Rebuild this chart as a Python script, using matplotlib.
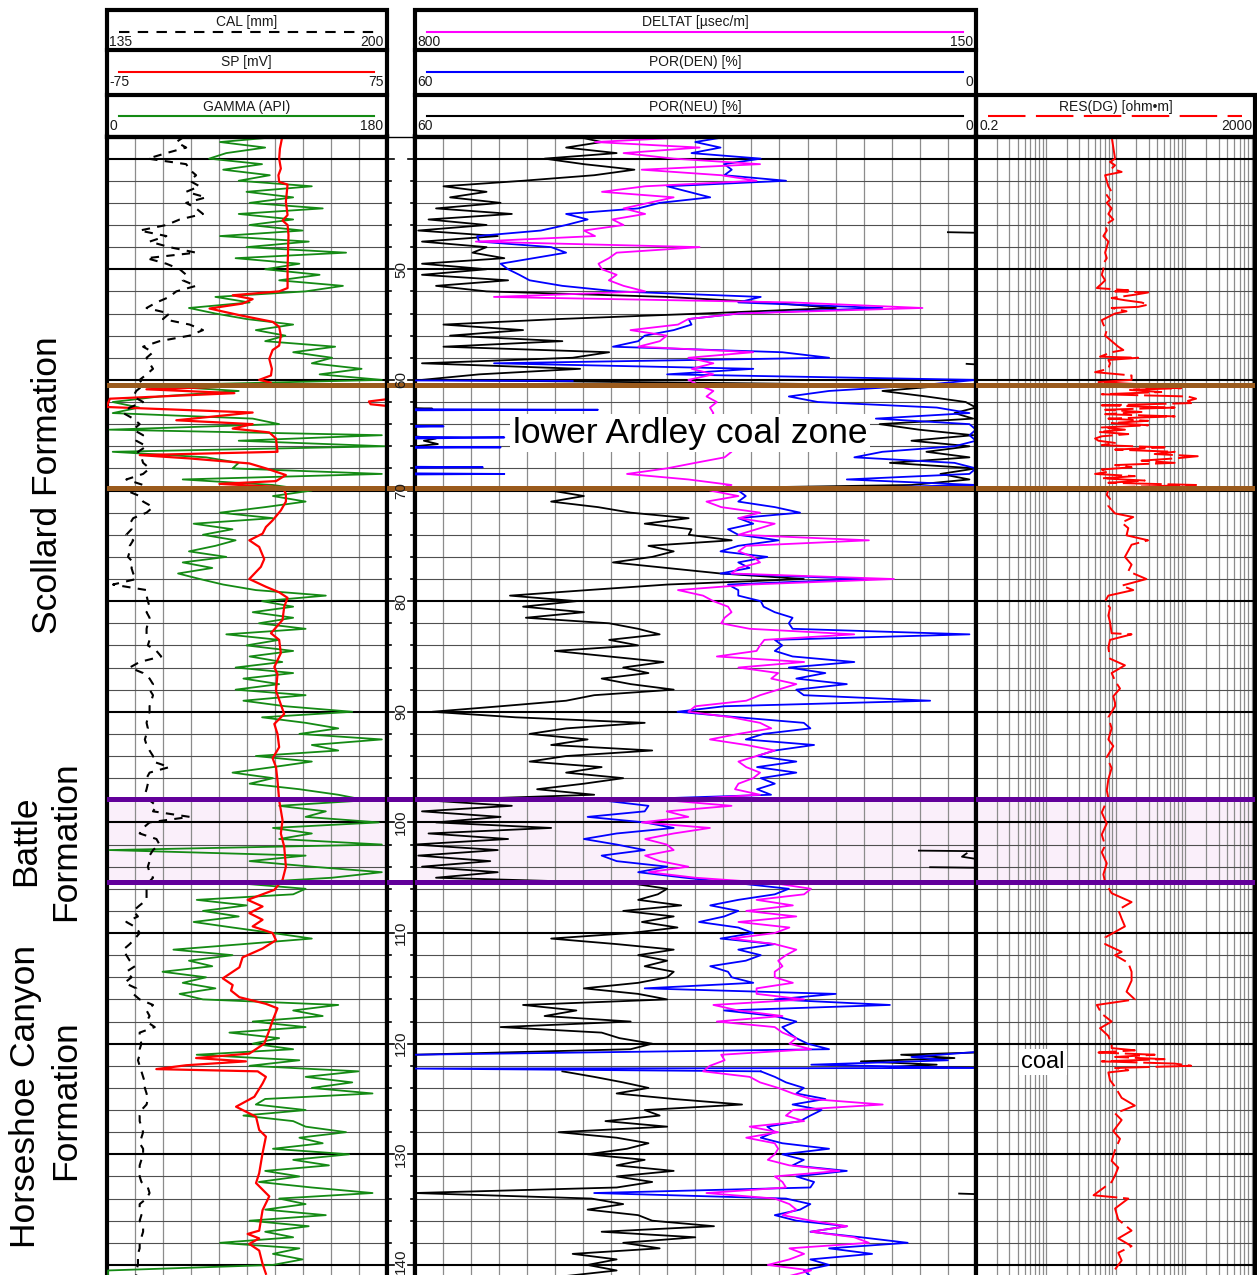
import numpy as np
import matplotlib
matplotlib.use("Agg")
import matplotlib.pyplot as plt
from matplotlib.patches import Rectangle
from matplotlib.ticker import NullLocator

plt.rcParams['font.family'] = ['Liberation Sans', 'DejaVu Sans']
nan = np.nan

# depth index (m) of the 0.5 m sampled curves
DEPTH = np.arange(38.0, 141.01, 0.5)

# GAMMA (API)
GR = [113, 73, 102, 77, 66, 100, 75, 105, 85, 132,
      90, 120, 92, 139, 85, 120, 92, 126, 73, 130,
      90, 154, 83, 124, 102, 137, 111, 152, 128, 70,
      92, 53, 70, 90, 120, 96, 115, 102, 147, 120,
      145, 132, 164, 137, 177, 28, 85, 34, 4, 21,
      4, 94, 111, 2, 177, 85, 179, 4, 64, 85,
      81, 177, 49, 107, 132, 107, 128, 102, 73, 107,
      56, 81, 62, 83, 70, 53, 77, 49, 68, 46,
      60, 75, 96, 141, 100, 120, 94, 120, 98, 128,
      77, 111, 90, 120, 92, 113, 83, 120, 88, 111,
      83, 128, 88, 115, 158, 100, 128, 149, 124, 177,
      132, 149, 96, 132, 107, 81, 107, 92, 124, 149,
      167, 111, 141, 128, 175, 107, 132, 111, 177, 2,
      128, 92, 132, 177, 145, 85, 128, 120, 58, 90,
      62, 85, 56, 81, 107, 132, 88, 43, 81, 53,
      68, 36, 64, 49, 70, 47, 62, 149, 120, 139,
      94, 128, 79, 111, 94, 120, 58, 124, 92, 162,
      128, 158, 132, 171, 102, 96, 128, 88, 120, 128,
      154, 124, 139, 107, 156, 120, 143, 102, 124, 98,
      132, 171, 111, 128, 102, 141, 92, 130, 102, 120,
      73, 124, 107, 126, 107, 1, 1]

# CAL (mm)
CAL = [153.1, 151.2, 153.5, 148.9, 144.6, 153.5, 154.3, 155.8, 154.3, 156.6,
       153.5, 158.1, 153.5, 155.8, 157.4, 152.0, 148.9, 142.7, 148.9, 145.0,
       149.6, 155.8, 144.3, 148.9, 152.0, 153.5, 152.7, 155.8, 151.2, 149.6,
       146.6, 144.3, 149.6, 148.1, 154.3, 157.4, 154.3, 147.3, 143.5, 145.8,
       144.3, 145.0, 145.8, 144.3, 142.7, 143.5, 141.9, 141.2, 143.5, 140.4,
       138.9, 141.2, 142.7, 141.2, 143.5, 141.9, 144.3, 142.3, 143.1, 143.5,
       145.0, 143.5, 139.6, 143.5, 139.6, 142.7, 143.5, 145.8, 144.3, 141.2,
       140.4, 140.8, 139.6, 141.2, 140.4, 140.4, 140.0, 141.2, 140.8, 141.2,
       141.9, 136.5, 144.3, 144.3, 144.6, 145.0, 144.3, 145.0, 144.6, 144.3,
       144.3, 145.0, 144.6, 146.6, 147.7, 142.7, 140.4, 143.5, 145.0, 145.8,
       145.0, 145.8, 145.4, 145.0, 145.0, 144.6, 144.3, 144.6, 144.3, 143.9,
       144.3, 145.0, 145.8, 145.8, 149.6, 145.0, 144.3, 144.6, 144.3, 143.9,
       145.0, 146.6, 145.8, 154.3, 145.0, 143.5, 142.7, 146.6, 147.3, 145.8,
       145.0, 145.0, 144.6, 145.0, 145.8, 144.6, 144.3, 144.3, 144.3, 142.7,
       141.2, 142.3, 139.6, 141.9, 142.7, 141.6, 140.4, 138.9, 139.6, 140.4,
       141.6, 139.6, 140.8, 139.2, 141.9, 141.2, 142.7, 145.8, 144.3, 145.0,
       144.3, 146.2, 142.7, 142.7, 143.1, 142.7, 142.7, 142.3, 142.7, 143.1,
       143.5, 143.9, 143.9, 144.3, 144.6, 144.3, 143.1, 142.7, 142.7, 143.1,
       143.5, 143.1, 142.7, 143.5, 143.5, 143.1, 142.7, 142.7, 142.7, 143.1,
       144.6, 145.0, 144.3, 142.7, 142.7, 143.1, 142.7, 143.5, 143.5, 143.1,
       142.7, 142.7, 142.3, 142.3, 142.3, 141.9, 141.9]

# POR(NEU) (%)
NEU = [42.7, 40.0, 43.8, 38.4, 46.1, 41.9, 36.5, 40.8, 48.4, 56.9,
       52.3, 56.2, 50.8, 57.7, 49.6, 58.5, 52.3, 59.6, 51.1, 59.2,
       52.3, 53.8, 50.4, 59.2, 52.3, 59.2, 50.0, 57.7, 52.3, 33.0,
       22.3, 15.0, 29.2, 44.6, 56.9, 48.4, 56.2, 44.2, 56.9, 39.2,
       43.1, 59.2, 42.3, 53.1, 59.2, 3.0, 10.0, 5.3, 1.1, 0.0,
       2.3, 0.3, 10.3, 6.1, 0.3, 6.9, 0.7, 5.3, 0.7, 9.2,
       0.0, 3.8, 0.7, 6.9, 45.4, 41.9, 45.4, 40.4, 36.9, 30.7,
       35.4, 30.4, 30.7, 26.1, 35.0, 32.3, 34.6, 38.8, 33.0, 27.3,
       18.4, 33.0, 41.5, 49.8, 42.7, 48.4, 41.9, 48.1, 39.2, 36.1,
       33.8, 39.2, 36.1, 45.0, 39.2, 33.4, 37.7, 35.0, 40.0, 36.9,
       32.3, 40.8, 43.8, 50.8, 58.1, 49.2, 35.4, 43.8, 47.7, 41.5,
       45.4, 34.6, 43.8, 47.7, 40.0, 43.8, 37.7, 41.9, 46.9, 40.8,
       58.8, 49.6, 59.2, 50.8, 57.7, 45.4, 58.5, 50.0, 60.0, 51.1,
       59.6, 51.9, 59.2, 51.1, 57.7, 36.9, 33.0, 34.0, 36.1, 31.5,
       37.7, 32.3, 35.7, 31.9, 36.9, 45.4, 38.4, 32.3, 36.1, 33.0,
       35.4, 32.3, 33.0, 36.1, 41.9, 36.1, 33.0, 48.4, 42.7, 46.1,
       36.9, 50.8, 40.0, 38.1, 34.6, 36.9, 60.0, nan, nan, 44.2,
       40.8, 37.7, 35.0, 38.4, 32.3, 25.0, 35.4, 33.8, 39.6, 33.0,
       44.6, 38.4, 35.0, 37.3, 41.5, 35.4, 38.4, 32.3, 38.4, 34.6,
       38.4, 60.0, 41.1, 37.7, 41.5, 36.1, 34.6, 28.0, 40.0, 30.0,
       37.7, 33.8, 43.1, 38.4, 41.5, 38.4, 43.8]

# POR(DEN) (%)
DEN = [26.5, 30.0, 27.3, 30.4, 23.0, 26.9, 26.1, 26.9, 20.3, 33.0,
       30.7, 28.4, 33.8, 36.1, 43.8, 41.5, 43.8, 46.5, 53.3, 53.1,
       45.4, 43.8, 47.3, 50.8, 50.0, 48.8, 47.7, 44.2, 38.4, 23.0,
       25.4, 10.0, 25.4, 30.7, 30.4, 32.3, 35.4, 36.1, 38.8, 20.7,
       15.7, 51.5, 23.8, 33.0, 0.0, 6.1, 15.7, 20.0, 16.9, 4.2,
       0.7, 10.7, 0.7, 0.0, 0.7, 0.0, 2.3, 10.0, 13.0, 2.3,
       0.0, 0.7, 13.8, 0.0, 25.4, 24.6, 25.4, 21.5, 18.8, 25.4,
       23.8, 26.5, 25.4, 21.1, 25.4, 27.3, 22.3, 25.4, 24.2, 27.3,
       11.9, 26.5, 25.4, 25.4, 23.0, 22.7, 21.5, 19.6, 20.0, 19.6,
       0.7, 21.5, 20.7, 21.5, 19.6, 13.0, 20.0, 16.1, 19.2, 13.8,
       19.2, 18.4, 4.9, 26.9, 31.9, 25.4, 18.4, 17.7, 22.7, 24.6,
       17.3, 21.5, 23.4, 19.2, 23.4, 19.2, 23.0, 21.5, 23.4, 21.9,
       40.0, 35.0, 35.4, 41.5, 35.4, 32.3, 38.4, 41.9, 38.4, 35.4,
       40.0, 38.4, 33.0, 36.1, 31.1, 25.4, 20.0, 21.5, 25.4, 28.4,
       25.4, 26.9, 29.6, 25.4, 23.8, 27.3, 21.5, 25.4, 23.0, 24.6,
       28.4, 26.5, 26.1, 23.8, 35.4, 15.0, 21.5, 9.2, 26.9, 21.5,
       19.2, 20.7, 20.0, 19.2, 18.0, 15.7, 60.0, nan, nan, 23.0,
       21.5, 20.3, 18.4, 19.2, 16.1, 19.6, 16.5, 17.7, 18.8, 22.3,
       21.5, 23.0, 20.7, 15.7, 20.7, 18.4, 19.6, 13.8, 19.2, 17.3,
       17.7, 40.8, 20.3, 17.7, 18.8, 21.5, 19.2, 13.8, 17.7, 12.3,
       7.3, 15.7, 11.1, 17.7, 15.7, 18.4, 17.7]

# DELTAT (usec/m)
DT = [466, 591, 470, 558, 500, 400, 537, 445, 404, 533,
      583, 500, 529, 558, 533, 571, 558, 604, 591, 729,
      470, 566, 575, 587, 583, 566, 575, 558, 533, 708,
      362, 212, 425, 483, 495, 550, 508, 516, 541, 408,
      483, 454, 479, 454, 483, 470, 454, 462, 450, 458,
      454, 458, 450, 454, 458, 450, 445, 433, 441, 475,
      508, 554, 483, 433, 458, 425, 462, 445, 400, 425,
      383, 404, 425, 274, 416, 425, 408, 400, 425, 433,
      245, 412, 495, 466, 454, 437, 433, 441, 445, 412,
      291, 395, 400, 404, 450, 349, 425, 379, 387, 358,
      379, 400, 416, 475, 483, 433, 400, 387, 425, 458,
      416, 383, 404, 425, 416, 400, 408, 425, 429, 400,
      508, 433, 508, 483, 537, 458, 500, 533, 508, 500,
      533, 516, 483, 529, 475, 383, 341, 349, 404, 362,
      416, 358, 425, 366, 383, 433, 383, 358, 370, 379,
      374, 383, 383, 362, 404, 404, 349, 454, 425, 374,
      450, 383, 374, 358, 366, 341, 445, 441, 458, 466,
      412, 400, 379, 362, 341, 258, 362, 370, 349, 412,
      379, 416, 383, 379, 383, 391, 366, 308, 383, 374,
      370, 462, 383, 366, 358, 374, 341, 299, 341, 291,
      274, 366, 349, 366, 391, 341, 366]

# SP (mV)
SP_DEPTH = [37.9, 39.1, 40.0, 40.9, 41.5, 42.1, 42.35, 43.9, 45.1, 45.6,
            46.0, 46.9, 49.9, 51.7, 52.0, 52.35, 52.7, 53.1, 53.55, 54.15,
            54.75, 55.2, 56.0, 56.9, 57.3, 58.1, 59.0, 59.6, 60.0, 60.25,
            60.5, 60.85, 61.2, 61.7, 62.45, 62.95, 63.65, 64.0, 64.4, 64.75,
            65.3, 66.5, 66.8, 67.1, 67.55, 68.0, 68.6, 69.15, 69.4, 69.7,
            70.3, 71.0, 71.8, 72.7, 73.3, 73.9, 74.5, 75.1, 76.2, 76.9,
            78.0, 78.7, 79.2, 79.7, 80.5, 81.7, 82.9, 83.5, 84.7, 85.95,
            86.6, 88.1, 88.9, 90.2, 91.1, 92.0, 93.2, 94.2, 95.0, 96.2,
            98.0, 99.8, 101.0, 102.2, 104.0, 105.2, 106.1, 107.0, 107.6, 108.2,
            108.8, 109.4, 110.0, 110.65, 111.4, 112.2, 113.1, 114.1, 114.7, 115.2,
            115.8, 116.4, 116.8, 117.9, 118.8, 120.0, 120.9, 121.3, 121.6, 121.95,
            122.3, 122.5, 123.0, 123.6, 124.8, 125.7, 126.6, 127.8, 128.4, 129.9,
            131.7, 132.6, 133.8, 135.05, 136.9, 137.2, 137.6, 138.1, 138.7, 139.9,
            140.8]
SP = [19.3, 17.9, 17.5, 18.4, 17.1, 17.5, 22.0, 21.1, 22.0, 19.3,
      22.0, 22.5, 22.0, 22.0, 17.5, -7.4, 3.3, -2.1, -19.8, -3.8,
      14.0, 17.5, 18.4, 17.5, 14.0, 12.2, 13.6, 13.1, 6.8, 13.1,
      10.4, -53.6, -6.5, -73.2, -75.0, 3.3, -37.6, 3.3, -7.4, 12.2,
      15.8, 16.6, -57.2, -30.5, 1.5, 10.4, 21.1, 15.8, -14.5, 19.3,
      21.1, 21.1, 18.4, 14.0, 10.4, 8.6, 1.5, 6.8, 9.5, 7.7,
      1.5, 10.4, 17.5, 22.0, 20.2, 19.3, 13.1, 17.5, 18.4, 14.9,
      16.6, 15.8, 17.5, 20.2, 14.9, 16.6, 17.5, 14.0, 15.8, 16.6,
      17.5, 19.3, 18.4, 20.2, 21.1, 19.3, 14.9, 0.6, 8.6, 1.5,
      8.6, 3.3, 14.0, 15.8, 8.6, -2.1, -3.8, -12.7, -7.4, -8.3,
      -3.8, 10.4, 16.6, 14.0, 12.2, 9.5, 1.5, -27.0, -0.3, -32.3,
      -48.3, 6.0, 10.4, 8.6, 4.2, -5.6, 5.1, 6.8, 10.4, 8.6,
      6.8, 5.1, 12.2, 8.6, 6.8, 0.6, 6.8, 1.5, 6.8, 8.6,
      10.4]
SP_WRAP_DEPTH = [61.75, 61.95, 62.2, 62.35]
SP_WRAP = [75.0, 65.6, 66.5, 75.0]

# porosity traces re-entering from the opposite edge of the track
NEU_WRAP_DEPTH = [46.65, 46.7, nan, 58.55, 58.6, nan, 62.55, 62.6, 62.65, nan,
                  65.1, 65.3, 65.5, 65.8, 66.0, nan, 102.55, 102.6, nan,
                  102.8, 103.1, 103.3, nan, 104.05, 104.1, nan,
                  120.8, 121.0, 121.3, 121.6, 121.9, 122.1, 122.15, nan,
                  133.55, 133.6]
NEU_WRAP = [3.0, 0.0, nan, 1.0, 0.0, nan, 60.0, 58.1, 60.0, nan,
            60.0, 57.7, 59.0, 57.5, 60.0, nan, 6.1, 0.0, nan,
            1.0, 1.5, 0.0, nan, 4.9, 0.0, nan,
            0.0, 8.0, 2.3, 12.3, 4.2, 9.2, 0.0, nan,
            1.8, 0.0]
DEN_WRAP_DEPTH = [60.05, 60.1, nan, 62.65, 62.7, 62.75, nan, 64.15, 64.2, 64.25, nan,
                  65.15, 65.2, 65.3, nan, 66.05, 66.1, 66.15, nan,
                  67.85, 67.9, 67.95, nan, 68.45, 68.5, 68.55, nan,
                  120.75, 121.2, 121.5, 121.9, 122.2, 122.25, 122.5]
DEN_WRAP = [60.0, 43.1, nan, 60.0, 40.4, 60.0, nan, 60.0, 56.9, 60.0, nan,
            60.0, 50.4, 60.0, nan, 60.0, 50.8, 60.0, nan,
            60.0, 52.7, 60.0, nan, 60.0, 50.4, 60.0, nan,
            0.0, 6.9, 3.0, 17.6, 0.0, 60.0, 23.0]

# RES(DG) (ohm.m)
RES_DEPTH = [38.0, 39.0, 40.0, 40.3, 40.6, 40.9, 41.2, 41.5, 42.0, 42.5,
             43.0, 43.3, 43.7, 44.0, 44.5, 45.0, 45.5, 46.0, 46.5, 47.0,
             47.5, 48.0, 48.5, 49.0, 49.5, 50.0, 50.5, 51.0, 51.3, 51.7,
             51.9, 52.0, 52.1, 52.3, 52.6, 52.8, 53.0, 53.2, 53.4, 53.5,
             53.8, 54.0, 54.3, 54.6, 55.0, 55.5, 56.0, 56.5, 57.0, 57.3,
             57.5, 57.9, 58.0, 58.2, 58.5, 59.0, 59.3, 59.6, 60.0, 60.2,
             60.4, 60.6, 60.75, 60.9, 61.1, 61.3, 61.5, 61.7, 61.9, 62.1,
             62.3, 62.5, 62.7, 62.9, 63.1, 63.3, 63.5, 63.7, 63.9, 64.1,
             64.3, 64.5, 64.7, 64.9, 65.1, 65.3, 65.5, 65.7, 65.9, 66.1,
             66.3, 66.5, 66.7, 66.9, 67.1, 67.3, 67.5, 67.7, 67.9, 68.1,
             68.3, 68.5, 68.7, 68.9, 69.1, 69.3, 69.5, 69.7, 69.9, 70.4,
             70.76, 71.4, 72.07, 72.4, 72.9, 73.4, 74.05, 74.5, 74.9, 76.0,
             76.7, 77.3, 78.0, 78.6, 79.0, 79.5, 80.0, 80.6, 81.3, 81.9,
             82.9, 83.0, 83.5, 84.2, 85.2, 85.8, 86.5, 87.2, 87.9, 88.6,
             89.2, 89.5, 90.5, 91.5, 92.5, 93.1, 94.1, 95.1, 96.1, 97.1,
             97.8, 98.4, 99.1, 100.1, 101.1, 102.1, 102.7, 103.7, 104.7, 105.4,
             106.4, 107.2, 107.9, 108.7, 109.4, 110.4, 111.0, 111.7, 112.0, 112.7,
             113.5, 114.3, 115.3, 116.0, 116.5, 117.3, 118.0, 118.6, 119.3, 120.1,
             120.4, 120.6, 120.8, 121.0, 121.2, 121.4, 121.6, 121.8, 122.0, 122.2,
             122.4, 122.6, 123.3, 123.9, 124.9, 125.6, 126.3, 126.9, 127.9, 128.6,
             129.6, 130.6, 131.2, 131.9, 132.5, 133.7, 134.0, 134.9, 135.9, 136.9,
             137.6, 138.3, 138.9, 139.6, 140.4]
RES = [17.6, 18.6, 19.7, 16.7, 19.7, 17.6, 24.5, 14.2, 15.0, 15.8,
       17.6, 15.0, 16.7, 15.0, 17.6, 15.8, 18.6, 14.2, 15.0, 13.4,
       15.8, 15.0, 14.2, 15.0, 13.4, 13.4, 12.7, 14.2, 12.7, 10.8,
       30.5, 19.7, 58.7, 37.9, 17.6, 27.3, 47.2, 58.7, 42.3, 17.6,
       28.8, 19.7, 15.8, 12.7, 13.4, 15.0, 14.2, 17.6, 21.9, 25.9,
       17.6, 12.0, 42.3, 15.8, 16.7, 15.8, 10.2, 34.0, 34.0, 11.4,
       47.2, 10.2, 175, 30.5, 90.8, 12.7, 218, 286, 218, 243,
       12.7, 141, 14.2, 47.2, 14.2, 141, 15.8, 58.7, 17.6, 58.7,
       12.7, 27.3, 11.4, 30.5, 12.7, 10.2, 11.4, 19.7, 12.7, 101,
       19.7, 141, 73.0, 302, 141, 47.2, 141, 19.7, 34.0, 12.7,
       15.8, 10.2, 37.9, 12.7, 52.6, 15.8, 286, 19.7, 15.8, 15.0,
       16.7, 15.8, 19.7, 35.9, 24.5, 30.5, 28.8, 58.7, 34.0, 27.3,
       34.0, 30.5, 55.5, 24.5, 35.9, 15.8, 14.2, 16.7, 15.8, 16.7,
       17.6, 34.0, 16.7, 15.8, 16.7, 27.3, 17.6, 19.7, 23.2, 18.6,
       19.7, 19.7, 15.8, 17.6, 15.8, 18.6, 15.0, 17.6, 15.8, 15.0,
       15.8, 14.2, 12.7, 15.0, 12.7, 14.2, 12.7, 15.0, 13.4, 14.2,
       17.6, 34.0, 21.9, 24.5, 27.3, 14.2, 14.2, 24.5, 19.7, 30.5,
       34.0, 34.0, 28.8, 37.9, 10.8, 12.7, 17.6, 12.0, 15.8, 17.6,
       17.6, 37.9, 11.4, 73.0, 19.7, 101, 12.7, 141, 243, 19.7,
       30.5, 15.8, 16.7, 19.7, 24.5, 37.9, 19.7, 24.5, 18.6, 23.2,
       19.7, 17.6, 21.9, 19.7, 17.6, 9.7, 30.5, 19.7, 21.9, 34.0,
       21.9, 34.0, 21.9, 24.5, 19.7]

# formation markers (m)
COAL_TOP, COAL_BASE = 60.45, 69.75
BATTLE_TOP, BATTLE_BASE = 97.85, 105.35

GREEN = '#148a14'
BROWN = '#9a5a1c'
PURPLE = '#62009a'
BATTLE_FILL = '#faeffa'
TXT = '#1a1a1a'

fig = plt.figure(figsize=(12.57, 12.75), dpi=100)
W, H = 1257.0, 1275.0
TOP_Y = 136.5
D_TOP, D_BOT = 38.0, 140.91


def px_axes(x0, y0, x1, y1, **kw):
    return fig.add_axes([x0 / W, 1 - y1 / H, (x1 - x0) / W, (y1 - y0) / H], **kw)


def bare(ax):
    ax.tick_params(which='both', left=False, bottom=False, top=False, right=False,
                   labelleft=False, labelbottom=False, labeltop=False)


def track_frame(ax):
    ax.set_ylim(D_BOT, D_TOP)
    bare(ax)
    for s in ax.spines.values():
        s.set_linewidth(3)
        s.set_color('black')
    ax.spines['bottom'].set_visible(False)


def depth_lines(ax):
    for d in range(40, 141, 2):
        if d % 10 == 0:
            ax.axhline(d, color='black', lw=1.5, zorder=1)
        else:
            ax.axhline(d, color='#505050', lw=0.8, zorder=1)
    ax.axhspan(BATTLE_TOP, BATTLE_BASE, color=BATTLE_FILL, lw=0, zorder=0)


def twin_of(ax, lo, hi):
    tw = ax.twiny()
    tw.set_xlim(lo, hi)
    bare(tw)
    for s in tw.spines.values():
        s.set_visible(False)
    return tw


def markers(ax):
    for d in (COAL_TOP, COAL_BASE):
        ax.axhline(d, color=BROWN, lw=3.6, zorder=5)
    for d in (BATTLE_TOP, BATTLE_BASE):
        ax.axhline(d, color=PURPLE, lw=3.6, zorder=5)


# --- track 1: gamma, SP, caliper
ax1 = px_axes(106.5, TOP_Y, 386.5, H)
ax1.set_xlim(0, 180)
track_frame(ax1)
for g in range(18, 180, 18):
    ax1.axvline(g, color='#8c8c8c', lw=0.9, zorder=1)
depth_lines(ax1)
ax1.plot(GR, DEPTH, color=GREEN, lw=1.3, zorder=3)

ax_sp = twin_of(ax1, -75, 75)
ax_sp.plot(SP, SP_DEPTH, color='red', lw=1.6)
ax_sp.plot(SP_WRAP, SP_WRAP_DEPTH, color='red', lw=1.6)

ax_cal = twin_of(ax1, 135, 200)
ax_cal.plot(CAL, DEPTH, color='black', lw=1.5, dashes=(4, 3.5))
markers(ax_cal)

# --- depth column
ax_d = px_axes(386.5, TOP_Y, 414.5, H)
ax_d.set_xlim(0, 28)
track_frame(ax_d)
ax_d.spines['top'].set_linewidth(1)
markers(ax_d)
for d in range(40, 141, 2):
    tl = 7 if d % 10 == 0 else 4
    ax_d.plot([0, tl], [d, d], color='black', lw=1.2)
    ax_d.plot([28 - tl, 28], [d, d], color='black', lw=1.2)
for d in range(50, 141, 10):
    # the last label is nudged up so it stays inside the column
    yd = d - 0.3 if d == 140 else d
    ax_d.text(14.5, yd, str(d), rotation=90, ha='center', va='center',
              fontsize=11, color=TXT, zorder=6)

# --- track 2: neutron, density porosity, sonic
ax2 = px_axes(414.5, TOP_Y, 976, H)
ax2.set_xlim(60, 0)
track_frame(ax2)
for p in range(3, 60, 3):
    ax2.axvline(p, color='#8c8c8c', lw=0.9, zorder=1)
depth_lines(ax2)
ax2.plot(NEU, DEPTH, color='black', lw=1.3, zorder=3)
ax2.plot(NEU_WRAP, NEU_WRAP_DEPTH, color='black', lw=1.3, zorder=3)
ax2.plot(DEN, DEPTH, color='#0000ff', lw=1.3, zorder=3)
ax2.plot(DEN_WRAP, DEN_WRAP_DEPTH, color='#0000ff', lw=1.3, zorder=3)

ax_dt = twin_of(ax2, 800, 150)
ax_dt.plot(DT, DEPTH, color='#ff00ff', lw=1.3)
markers(ax_dt)

# --- track 3: resistivity, log scale
ax3 = px_axes(976, TOP_Y, 1255, H)
ax3.set_xscale('log')
ax3.set_xlim(0.2, 2000)
ax3.xaxis.set_minor_locator(NullLocator())
track_frame(ax3)
for n in range(4):
    for m in range(1, 10):
        v = 0.2 * m * 10 ** n
        if 0.2 < v < 2000:
            ax3.axvline(v, color='#8c8c8c', lw=0.9, zorder=1)
depth_lines(ax3)
ax3.plot(RES, RES_DEPTH, color='red', lw=1.4, dashes=(20, 3), zorder=3)
markers(ax3)

# --- headers, labels (pixel overlay)
ov = px_axes(0, 0, W, H, zorder=10)
ov.set_xlim(0, W)
ov.set_ylim(H, 0)
ov.axis('off')
ov.patch.set_alpha(0)

ROWS = [10, 50, 94.5]


def box(x0, y0, x1, y1):
    ov.add_patch(Rectangle((x0, y0), x1 - x0, y1 - y0, fill=False, lw=3,
                           edgecolor='black'))


def header(x0, x1, row, title, lo, hi, color, dashes=None):
    top = ROWS[row]
    ov.text((x0 + x1) / 2, top + 12, title, ha='center', va='center',
            fontsize=10, color=TXT)
    kw = dict(color=color, lw=1.5)
    if dashes:
        kw['dashes'] = dashes
    ov.plot([x0 + 12, x1 - 13], [top + 21.5, top + 21.5], **kw)
    ov.text(x0 + 3, top + 32, lo, ha='left', va='center', fontsize=10, color=TXT)
    ov.text(x1 - 3, top + 32, hi, ha='right', va='center', fontsize=10, color=TXT)


box(106.5, 10, 386.5, 136.5)
box(414.5, 10, 976, 136.5)
box(976, 94.5, 1255, 136.5)
for y in (50, 94.5):
    ov.plot([106.5, 386.5], [y, y], color='black', lw=3)
    ov.plot([414.5, 976], [y, y], color='black', lw=3)

header(106.5, 386.5, 0, 'CAL [mm]', '135', '200', 'black', dashes=(5, 4))
header(106.5, 386.5, 1, 'SP [mV]', '-75', '75', 'red')
header(106.5, 386.5, 2, 'GAMMA (API)', '0', '180', GREEN)
header(414.5, 976, 0, 'DELTAT [µsec/m]', '800', '150', '#ff00ff')
header(414.5, 976, 1, 'POR(DEN) [%]', '60', '0', '#0000ff')
header(414.5, 976, 2, 'POR(NEU) [%]', '60', '0', 'black')
header(976, 1255, 2, 'RES(DG) [ohm•m]', '0.2', '2000', 'red', dashes=(18, 5))

# formation names
ov.text(48, 485, 'Scollard Formation', rotation=90, ha='center', va='center',
        fontsize=25.5, color='black')
ov.text(26, 841, 'Battle', rotation=90, ha='center', va='center',
        fontsize=25.5, color='black')
ov.text(66, 841, 'Formation', rotation=90, ha='center', va='center',
        fontsize=25.5, color='black')
ov.text(26, 1097, 'Horseshoe Canyon', rotation=90, ha='center', va='center',
        fontsize=25.5, color='black')
ov.text(66, 1100, 'Formation', rotation=90, ha='center', va='center',
        fontsize=25.5, color='black')

ov.text(690, 433, 'lower Ardley coal zone', ha='center', va='center',
        fontsize=25.5, color='black',
        bbox=dict(facecolor='white', edgecolor='none', pad=2))
ov.text(1043, 1062, 'coal', ha='center', va='center', fontsize=17,
        color='black', bbox=dict(facecolor='white', edgecolor='none', pad=1.5))

fig.savefig('out.png', dpi=100)
